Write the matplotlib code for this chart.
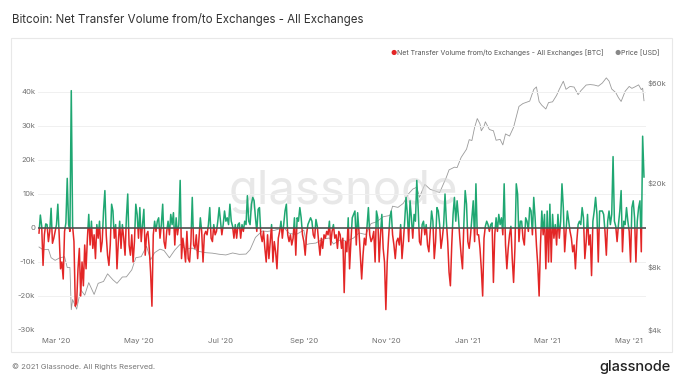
# Bitcoin net transfer volume to/from exchanges with price overlay

import numpy as np
import pandas as pd
import matplotlib
matplotlib.use("Agg")
import matplotlib.pyplot as plt
import matplotlib.transforms as mtransforms
from matplotlib.patches import Rectangle

start_date = "2020-02-17"

# daily net flow, thousands of BTC
net_flow_k = [
    -1.5, 3.8, 0.5, -11, -2, 1.2, 1.0, -4, -1, 5.8, -4.5, -3, -1, 1, 7, -2,
    -12, -10, -15, -1, 1.5, 14.6, 1, -1, 40.4, 0.5, -4, -23, -22, -12, -6, -20,
    -10, -17, -5, -12, -3, 4, -5, 2, -6, -2, -9, 1, -3, 2, -7, -4, 5, 11,
    -2, -8, -11, -5, 7, 5, -3, 1, -12, -4, 2, -6, 1, -3, -8, 3, 10, -5, -8, -2,
    -10, -4, 7, 4, -3, 6, -4, 1, 5.5, -8, -2, -1, -6, -13, -23, -2, 2, -1, 2, 3,
    -3, 1, 7, -4, -6, -1, 2, -2, 4, 1, 4.5, -5, 3, -2, 1, 14, -9, -3, -6, -10,
    -1, -9,
    -10, -4, 9, -5, -6, -2, -9, -3, 3, -1, -10, -2, -1, -2, 1, 6, -3, -4, 1, -2,
    -1, 2, 6, 2, -2, 1, 5, 2, 3, 1, 7, 2, 0.5, -3, 1, -3, 1, 1.5, -3, 1,
    -1, 2, 1, 9.5, 2, 1, 7, 9, 8, 3, -1, 5.5, 6, -2, -4, -1, -6, -10, -2, -9,
    -4, 1, -10, -4, -7, -12, -3, -1, 2, -3, 1, 5, 7, -2, -4, -2, -5, -3, 3, -8,
    3, 2, 6, 3, -2, -4, -8, -2, 1, 2, 3, 2, -2, -3, 2.5, 0.5, -4, -8, -3, -6,
    -2, -3, -1, -2, 2, -5, -1, 1, -3, -2, -6, -1, -2,
    -6, -3, -19, -4, -7, 3, -12, -4, 3, 4, 5, -5, 4.5, -1, -8, -15, -8, -3, -5, 0.5,
    6, -2, -4, -3, -1, -10, 5, 3, -10, -2, 4, -6, -10, -24, -10, -3, 3, 5, -2, -5,
    -9, -4, -3, -5, 1, -9, -4, 2, 9, 4, -4, 8, 3, -3, 4, 2, 14, 6, -4, -5,
    1, 2, -2, 1, -5, -7, -1, 5, 2, -9, -4, 6, 5, 1, -6, -3, 1, 10, 2, -4,
    -13, -17, -5, 4, 9, 2, 8, 3, -3, -8, -12, 1, 11, 7, -4, -6, -2, 3, 8, -4,
    13, -2, -2, -6, -12, -20, -3, 0.5, 2, 1, -1, 1, 1.5,
    -16, -2, 3, -1, 4, 1, 3, -2, 13, -5, -12, -6, -2, 0.5, -9, -16, -6, 13, 10, -4,
    2, 2, -3, -5, 3, 2, -1, 6, 5, -2, 9, 3, -5, -11, -20, -5, 5, -2, 4, -12,
    5, -10, 7, -10, 4, -3, 1, -5, 4, -3, 2, 13, 6, -7, -1, 5, 2, -1, -3, -7,
    -5, -12, -4, 1, 2, 1, 6, 3, -9, -4, 4, -5, -2, -14, 2, 5, 9, 4, -10, 5,
    5, 5, 4, -1, -8, 2, 5, 1, 4, 21, 2, 0.5, -4, 1, 5, 11, -7, 2, 1, 6,
    2, -1, -10, 6, 8, 3, -10, 2, 6, 8, -7, 27, 15,
]

price_dates = [
    "2020-02-17", "2020-02-20", "2020-02-24", "2020-02-26", "2020-02-29", "2020-03-03",
    "2020-03-07", "2020-03-09", "2020-03-11", "2020-03-12", "2020-03-13", "2020-03-16",
    "2020-03-19", "2020-03-22", "2020-03-25", "2020-03-29", "2020-04-01", "2020-04-05",
    "2020-04-08", "2020-04-12", "2020-04-15", "2020-04-19", "2020-04-22", "2020-04-26",
    "2020-04-29", "2020-05-03", "2020-05-07", "2020-05-10", "2020-05-13", "2020-05-17",
    "2020-05-20", "2020-05-24", "2020-05-28", "2020-06-01", "2020-06-05", "2020-06-10",
    "2020-06-15", "2020-06-20", "2020-06-25", "2020-06-30", "2020-07-05", "2020-07-10",
    "2020-07-15", "2020-07-20", "2020-07-23", "2020-07-27", "2020-08-01", "2020-08-05",
    "2020-08-10", "2020-08-17", "2020-08-21", "2020-08-26", "2020-09-01", "2020-09-03",
    "2020-09-05", "2020-09-10", "2020-09-15", "2020-09-20", "2020-09-23", "2020-09-28",
    "2020-10-03", "2020-10-08", "2020-10-12", "2020-10-17", "2020-10-21", "2020-10-25",
    "2020-10-30", "2020-11-04", "2020-11-06", "2020-11-10", "2020-11-14", "2020-11-18",
    "2020-11-21", "2020-11-24", "2020-11-26", "2020-11-30", "2020-12-04", "2020-12-08",
    "2020-12-11", "2020-12-16", "2020-12-18", "2020-12-22", "2020-12-24", "2020-12-27",
    "2020-12-31", "2021-01-02", "2021-01-04", "2021-01-06", "2021-01-08", "2021-01-10",
    "2021-01-11", "2021-01-13", "2021-01-14", "2021-01-17", "2021-01-20", "2021-01-22",
    "2021-01-25", "2021-01-27", "2021-01-29", "2021-02-01", "2021-02-04", "2021-02-08",
    "2021-02-11", "2021-02-14", "2021-02-16", "2021-02-19", "2021-02-21", "2021-02-23",
    "2021-02-25", "2021-02-28", "2021-03-02", "2021-03-05", "2021-03-08", "2021-03-10",
    "2021-03-13", "2021-03-15", "2021-03-18", "2021-03-21", "2021-03-24", "2021-03-26",
    "2021-03-30", "2021-04-02", "2021-04-05", "2021-04-08", "2021-04-11", "2021-04-14",
    "2021-04-16", "2021-04-18", "2021-04-21", "2021-04-23", "2021-04-25", "2021-04-28",
    "2021-05-01", "2021-05-03", "2021-05-05", "2021-05-08", "2021-05-10", "2021-05-11",
    "2021-05-12",
]
price_usd = [
    9900, 9600, 9650, 8800, 8550, 8760, 8900, 7900, 7900, 4970, 5560, 5000,
    6190, 5830, 6690, 5880, 6640, 6780, 7370, 6900, 6640, 7120, 7130, 7700,
    8800, 8900, 9980, 8600, 9300, 9670, 9520, 8790, 9570, 10200, 9660, 9780,
    9430, 9300, 9250, 9140, 9070, 9270, 9130, 9160, 9610, 11000, 11800, 11750,
    11880, 12250, 11520, 11330, 11920, 10170, 10250, 10340, 10790, 10930, 10230, 10700,
    10550, 10930, 11550, 11360, 12810, 13050, 13800, 14000, 15500, 15300, 16000, 17800,
    18700, 19100, 17100, 19700, 18650, 18300, 18000, 21300, 23100, 23800, 23700, 26500,
    29000, 32200, 31900, 36800, 40600, 38300, 35500, 37300, 39200, 36000, 35500, 32000,
    32300, 30400, 34300, 33500, 36900, 46400, 47900, 48700, 49200, 55900, 57500, 48900,
    47000, 45100, 48400, 48800, 52400, 56000, 61200, 56000, 57800, 57400, 52800, 55100,
    58700, 59000, 58700, 58000, 60000, 63500, 61300, 56200, 54000, 51100, 49000, 54800,
    57800, 56600, 57400, 58800, 55800, 56700, 49400,
]

flow_ticks = [-30000, -20000, -10000, 0, 10000, 20000, 30000, 40000]
flow_tick_labels = ["-30k", "-20k", "-10k", "0", "10k", "20k", "30k", "40k"]
price_ticks = [4000, 8000, 20000, 60000]
price_tick_labels = ["$4k", "$8k", "$20k", "$60k"]
month_ticks = ["2020-03-01", "2020-05-01", "2020-07-01", "2020-09-01",
               "2020-11-01", "2021-01-01", "2021-03-01", "2021-05-01"]
month_labels = ["Mar '20", "May '20", "Jul '20", "Sep '20",
                "Nov '20", "Jan '21", "Mar '21", "May '21"]

GREEN = "#1fa772"
RED = "#e32626"
GRAY_TXT = "#6f6f6f"
plt.rcParams["font.family"] = ["Inter", "DejaVu Sans"]

W, H = 683, 385
fig = plt.figure(figsize=(W / 100, H / 100), dpi=100)
fig.patch.set_facecolor("white")

# panel frame
fig.patches.append(Rectangle((11 / W, 1 - 352 / H), 661 / W, 314 / H,
                             transform=fig.transFigure, fill=False,
                             edgecolor="#e8e8e8", lw=0.8))

ax = fig.add_axes([38 / W, 1 - 330 / H, 608 / W, 272 / H])
ax2 = ax.twinx()
ax.set_zorder(ax2.get_zorder() + 1)
ax.patch.set_visible(False)

dates = pd.date_range(start_date, periods=len(net_flow_k), freq="D")
flow = np.array(net_flow_k) * 1000.0

# price (log axis)
ax2.plot(pd.to_datetime(price_dates), price_usd, color="#9a9a9a", lw=0.6)
ax2.set_yscale("log")
ax2.set_ylim(3976, 79000)
ax2.set_yticks(price_ticks)
ax2.set_yticklabels(price_tick_labels)
ax2.minorticks_off()

# net flow: green above zero, red below
blend = mtransforms.blended_transform_factory(ax.transAxes, ax.transData)
g_line, = ax.plot(dates, flow, color=GREEN, lw=1.1)
r_line, = ax.plot(dates, flow, color=RED, lw=1.1)
g_line.set_clip_path(Rectangle((0, 0), 1, 1e6, transform=blend))
r_line.set_clip_path(Rectangle((0, -1e6), 1, 1e6, transform=blend))
ax.axhline(0, color="#505050", lw=1.2, zorder=5)

ax.set_ylim(-30000, 50000)
ax.set_xlim(dates[0] - pd.Timedelta(hours=18), dates[-1] + pd.Timedelta(hours=36))
ax.set_yticks(flow_ticks)
ax.set_yticklabels(flow_tick_labels)
ax.set_xticks(pd.to_datetime(month_ticks))
ax.set_xticklabels(month_labels)
ax.grid(axis="y", color="#f0f0f0", lw=0.7)
ax.set_axisbelow(True)

for a in (ax, ax2):
    for s in a.spines.values():
        s.set_visible(False)
ax.tick_params(axis="both", length=0, labelsize=5.5, colors=GRAY_TXT)
ax.tick_params(axis="x", pad=6)
ax.tick_params(axis="y", pad=2)
ax2.tick_params(axis="y", length=0, labelsize=5.5, colors=GRAY_TXT, pad=1)

# watermark
fig.text(343 / W, 1 - 192 / H, "glassnode", fontsize=34, color="#d9d9d9",
         alpha=0.6, ha="center", va="center", zorder=0)

# title
fig.text(12 / W, 1 - 20 / H, "Bitcoin: Net Transfer Volume from/to Exchanges - All Exchanges",
         fontsize=8.3, color="#333333", va="center", ha="left")

# legend
fig.text(390 / W, 1 - 53 / H, "\u25CF", color=RED, fontsize=5, va="center", ha="left")
fig.text(397 / W, 1 - 53 / H, "Net Transfer Volume from/to Exchanges - All Exchanges [BTC]",
         color="#555555", fontsize=5, va="center", ha="left")
fig.text(614 / W, 1 - 53 / H, "\u25CF", color="#888888", fontsize=5, va="center", ha="left")
fig.text(621 / W, 1 - 53 / H, "Price [USD]", color="#555555", fontsize=5,
         va="center", ha="left")

# footer
fig.text(12 / W, 1 - 367 / H, "\u00A9 2021 Glassnode. All Rights Reserved.",
         fontsize=5.5, color="#777777", va="center", ha="left")
fig.text(671 / W, 1 - 367 / H, "glassnode", fontsize=10.5, color="#222222",
         va="center", ha="right", fontweight="medium")

fig.savefig("out.png", dpi=100)
